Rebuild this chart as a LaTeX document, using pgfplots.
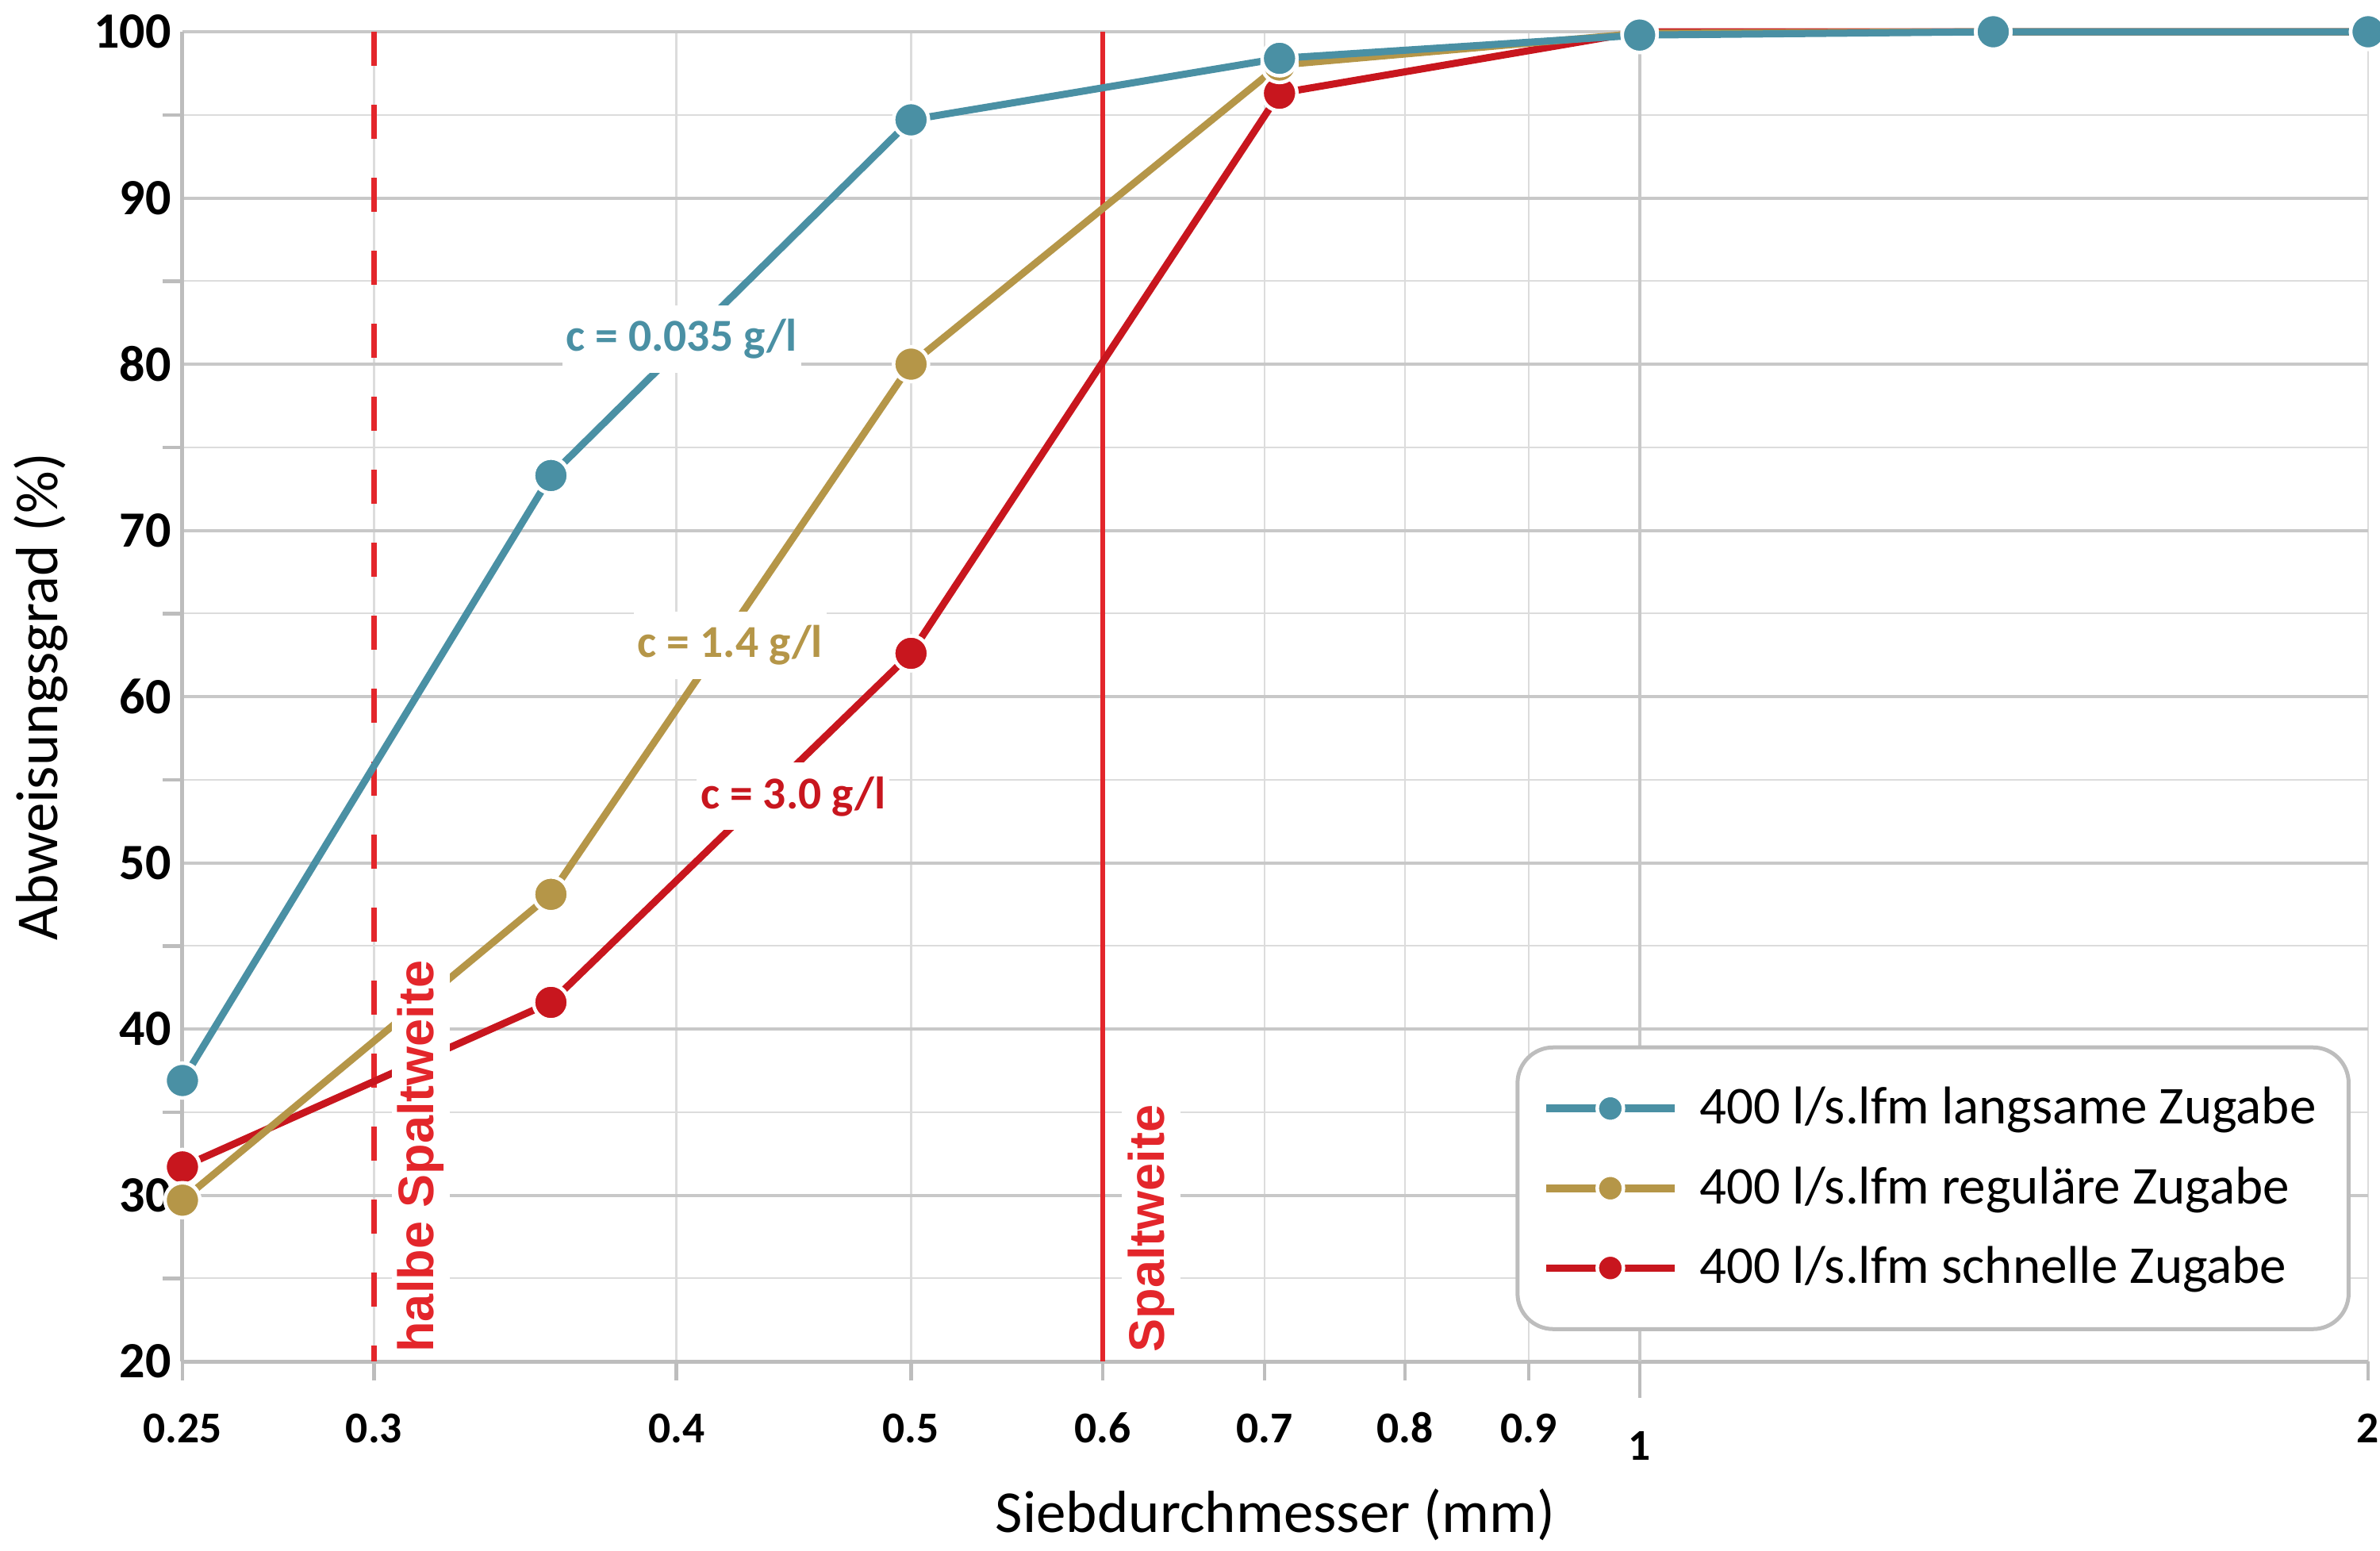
\documentclass[border=0pt]{standalone}
\usepackage{fontspec}
\setmainfont{Carlito}
\newfontfamily\arialfont{Liberation Sans}
\usepackage{pgfplots}
\pgfplotsset{compat=1.18}
\usetikzlibrary{calc}
\definecolor{cblue}{HTML}{4A90A4}
\definecolor{cgold}{HTML}{B59648}
\definecolor{cred}{HTML}{C8161E}
\definecolor{lred}{HTML}{E3262B}
\definecolor{gmaj}{HTML}{C8C8C8}
\definecolor{gmin}{HTML}{DCDCDC}
\definecolor{axgray}{HTML}{BDBDBD}
\begin{document}
\begin{tikzpicture}
\begin{axis}[
  scale only axis, width=551pt, height=335.2pt,
  xmode=log, xmin=0.25, xmax=2, ymin=20, ymax=100,
  clip=false,
  axis x line*=bottom, axis y line*=left,
  axis line style={axgray, line width=1pt, -},
  xtick={0.25,0.3,0.4,0.5,0.6,0.7,0.8,0.9,2},
  xticklabels={0.25,0.3,0.4,0.5,0.6,0.7,0.8,0.9,2},
  extra x ticks={1}, extra x tick labels={1},
  extra x tick style={x grid style={color=gmaj, line width=0.8pt}, major tick length=9.2pt},
  ytick={20,30,...,100}, minor ytick={25,35,...,95},
  xmajorgrids, ymajorgrids, yminorgrids,
  x grid style={color=gmin, line width=0.5pt},
  major grid style={color=gmaj, line width=0.8pt},
  minor grid style={color=gmin, line width=0.45pt},
  tick style={axgray, line width=0.9pt},
  tick align=outside,
  major tick length=4.8pt, minor tick length=5pt,
  major y tick style={draw=none},
  /pgf/number format/assume math mode=true,
  xticklabel style={anchor=center, inner sep=0pt, yshift=-12pt, font=\bfseries\fontsize{11.1}{13}\selectfont},
  yticklabel style={anchor=east, inner sep=0pt, xshift=2.1pt, font=\bfseries\fontsize{12.8}{15}\selectfont},
  xlabel={Siebdurchmesser (mm)},
  ylabel={Abweisungsgrad (\%)},
  every axis x label/.style={at={(axis description cs:0.5,-0.1154)}, anchor=center, font=\fontsize{15}{18}\selectfont},
  every axis y label/.style={at={(axis description cs:-0.0646,0.5)}, anchor=center, rotate=90, font=\fontsize{15}{18}\selectfont},
  reverse legend,
  legend cell align=left,
  legend style={at={(axis description cs:0.992,0.0228)}, anchor=south east,
    draw=axgray, line width=1pt, rounded corners=9pt,
    font=\fontsize{13.4}{16}\selectfont,
    inner xsep=6.2pt, inner ysep=8pt, row sep=5.3pt, column sep=3.4pt},
  legend image code/.code={\draw[mark repeat=2,mark phase=2,#1, line width=1.9pt, every mark/.append style={scale=0.75}] plot coordinates {(0pt,0pt) (16.25pt,0pt) (32.5pt,0pt)};},
]
\addplot[lred, line width=1.5pt, dash pattern=on 8.5pt off 9.9pt, forget plot] coordinates {(0.3,100) (0.3,20)};
\addplot[lred, line width=1.3pt, forget plot] coordinates {(0.6,20) (0.6,100)};

\addplot[cred, line width=1.8pt, mark=*, mark size=4.4pt, mark options={draw=white, line width=0.9pt, fill=cred}]
  coordinates {(0.25,31.7) (0.355,41.6) (0.5,62.6) (0.71,96.3) (1,100) (1.4,100) (2,100)};
\addlegendentry{400 l/s.lfm schnelle Zugabe}
\addplot[cgold, line width=1.8pt, mark=*, mark size=4.4pt, mark options={draw=white, line width=0.9pt, fill=cgold}]
  coordinates {(0.25,29.7) (0.355,48.1) (0.5,80.0) (0.71,98.0) (1,99.9) (1.4,100) (2,100)};
\addlegendentry{400 l/s.lfm reguläre Zugabe}
\addplot[cblue, line width=1.8pt, mark=*, mark size=4.4pt, mark options={draw=white, line width=0.9pt, fill=cblue}]
  coordinates {(0.25,36.9) (0.355,73.3) (0.5,94.7) (0.71,98.4) (1,99.8) (1.4,100) (2,100)};
\addlegendentry{400 l/s.lfm langsame Zugabe}

\node[fill=white, inner xsep=1pt, inner ysep=3.5pt, text=cblue, font=\bfseries\fontsize{11.5}{13}\selectfont] at (axis cs:0.402,81.5) {c = 0.035 g/l};
\node[fill=white, inner xsep=1pt, inner ysep=3.5pt, text=cgold, font=\bfseries\fontsize{11.5}{13}\selectfont] at (axis cs:0.421,63.1) {c = 1.4 g/l};
\node[fill=white, inner xsep=1pt, inner ysep=3.5pt, text=cred, font=\bfseries\fontsize{11.5}{13}\selectfont] at (axis cs:0.447,54.0) {c = 3.0 g/l};

\node[rotate=90, anchor=north west, fill=white, inner sep=1.5pt, text=lred, font=\arialfont\bfseries\fontsize{12.6}{14}\selectfont] at ($(axis cs:0.3,20)+(4.2pt,0.6pt)$) {halbe Spaltweite};
\node[rotate=90, anchor=north west, fill=white, inner sep=1.5pt, text=lred, font=\arialfont\bfseries\fontsize{12.6}{14}\selectfont] at ($(axis cs:0.6,20)+(4.6pt,0.6pt)$) {Spaltweite};
\end{axis}
\pgfresetboundingbox
\path[use as bounding box] (-46pt,-47.8pt) rectangle (554pt,343.2pt);
\end{tikzpicture}
\end{document}
